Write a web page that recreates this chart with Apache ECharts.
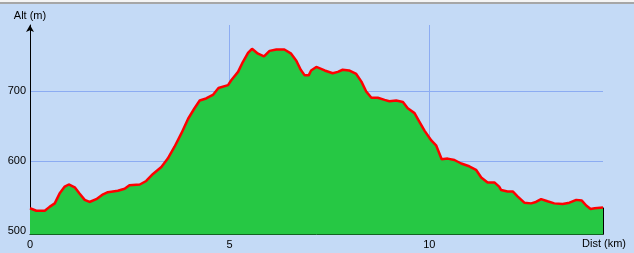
<!DOCTYPE html>
<html>
<head>
<meta charset="utf-8">
<script src="https://cdn.jsdelivr.net/npm/echarts@6/dist/echarts.min.js"></script>
<style>
html,body{margin:0;padding:0;background:#c4daf6;}
#wrap{position:relative;width:634px;height:253px;}
#chart{position:absolute;left:0;top:0;width:634px;height:253px;}
#b1{position:absolute;left:0;top:0;width:634px;height:2px;background:#f4f4f4;z-index:2;}
#b2{position:absolute;left:0;top:2px;width:634px;height:2px;background:#a6a6a6;z-index:2;}
</style>
</head>
<body>
<div id="wrap"><div id="chart"></div><div id="b1"></div><div id="b2"></div></div>
<script>
const dist = [0, 0.16, 0.37, 0.49, 0.62, 0.74, 0.87, 0.97, 1.12, 1.24, 1.37, 1.49, 1.66, 1.83, 1.95, 2.20, 2.37, 2.49, 2.75, 2.91, 3.08, 3.29, 3.45, 3.62, 3.79, 3.96, 4.12, 4.25, 4.41, 4.58, 4.72, 4.96, 5.04, 5.21, 5.33, 5.46, 5.56, 5.71, 5.86, 6.00, 6.17, 6.37, 6.54, 6.67, 6.78, 6.88, 6.98, 7.04, 7.17, 7.21, 7.38, 7.58, 7.71, 7.83, 7.99, 8.17, 8.30, 8.42, 8.55, 8.71, 8.88, 9.00, 9.17, 9.34, 9.46, 9.63, 9.75, 9.88, 10.05, 10.17, 10.31, 10.46, 10.63, 10.80, 11.00, 11.17, 11.30, 11.46, 11.63, 11.75, 11.80, 11.96, 12.09, 12.21, 12.38, 12.55, 12.67, 12.80, 12.96, 13.13, 13.34, 13.51, 13.68, 13.82, 13.93, 14.04, 14.14, 14.35];
const alt = [533, 529.5, 529.5, 535, 540, 554, 564, 567, 563, 554, 545, 542, 546, 553, 556, 558, 561, 566, 567, 572, 582, 592, 604, 621, 640, 661, 676, 687, 690, 695, 705, 709, 716, 728, 742, 755, 761, 754, 750, 758, 760, 760, 754, 744, 731, 723, 723, 730, 735, 734, 730, 726, 728, 731, 730, 725, 714, 700, 691, 691, 688, 686, 687, 685, 676, 669, 657, 644, 630, 623, 603, 604, 602, 597, 593, 588, 577, 570, 570, 564, 559, 557, 557, 550, 541, 540, 542, 546, 543, 540, 539, 541, 545, 544, 537, 532, 533, 534];
const xTicks = [0, 5, 10];
const yTicks = [500, 600, 700];
const yMin = 495.5;

const chart = echarts.init(document.getElementById('chart'), null, {renderer: 'canvas'});
const font = 'Liberation Sans, Arial, sans-serif';
const lastD = dist[dist.length - 1], lastA = alt[alt.length - 1];
chart.setOption({
  backgroundColor: '#c4daf6',
  animation: false,
  grid: {left: 30, right: 31, top: 25, bottom: 18.5, containLabel: false},
  xAxis: {
    type: 'value', min: 0, max: lastD,
    name: 'Dist (km)', nameLocation: 'end', nameGap: 1,
    nameTextStyle: {color: '#000', fontFamily: font, fontSize: 11, align: 'center', verticalAlign: 'top', padding: [4, 0, 0, 0]},
    axisLine: {show: true, onZero: false, lineStyle: {color: '#000', width: 1}},
    axisTick: {show: false, customValues: xTicks},
    axisLabel: {customValues: xTicks, color: '#000', fontFamily: font, fontSize: 11, margin: 5},
    splitLine: {show: true, lineStyle: {color: '#8cacf2', width: 1}}
  },
  yAxis: {
    type: 'value', min: yMin, max: 795,
    name: 'Alt (m)', nameLocation: 'end', nameGap: 4,
    nameTextStyle: {color: '#000', fontFamily: font, fontSize: 11},
    axisLine: {show: true, onZero: false, symbol: ['none', 'arrow'], symbolSize: [6, 7], lineStyle: {color: '#000', width: 1}},
    axisTick: {show: false, customValues: yTicks},
    axisLabel: {customValues: yTicks, color: '#000', fontFamily: font, fontSize: 11, margin: 4},
    splitLine: {show: true, lineStyle: {color: '#8cacf2', width: 1}}
  },
  series: [{
    type: 'line',
    data: dist.map((d, i) => [d, alt[i]]),
    showSymbol: false,
    smooth: false,
    lineStyle: {color: '#ff0000', width: 2.5},
    itemStyle: {color: '#ff0000'},
    areaStyle: {color: '#26c844', opacity: 1, origin: 'start'},
    markLine: {
      silent: true, symbol: ['none', 'none'], label: {show: false},
      lineStyle: {color: '#000', width: 1, type: 'solid'},
      data: [[{coord: [lastD, yMin]}, {coord: [lastD, lastA]}]]
    }
  }]
});
</script>
</body>
</html>
